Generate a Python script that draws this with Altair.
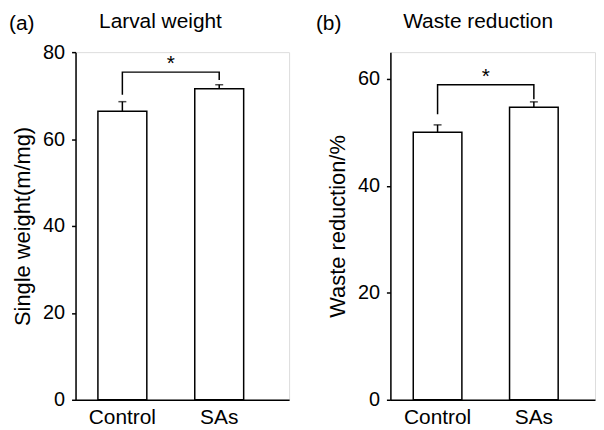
import altair as alt
import pandas as pd

# ---------------- data ----------------
groups = ["Control", "SAs"]
weight_mean = [66.4, 71.6]
weight_err = [2.2, 0.9]
waste_mean = [50.0, 54.7]
waste_err = [1.4, 1.0]
# significance brackets: left-leg bottom, bracket level, right-leg bottom
weight_bracket = [70.2, 75.4, 73.6]
waste_bracket = [53.4, 58.9, 56.2]
sig_mark = "*"
panel_tags = ["(a)", "(b)"]
panel_titles = ["Larval weight", "Waste reduction"]
y_titles = ["Single weight(m/mg)", "Waste reduction/%"]
y_max = [80, 65]
y_tick_values = [[0, 20, 40, 60, 80], [0, 20, 40, 60]]

FONT = "Liberation Sans"
INK = "black"
LW = 1.5


def make_panel(means, errs, bracket, tag, title, ytitle, ymax, yticks,
               width, pad_outer, align, tag_x, title_x):
    height = 350
    pad_inner = 0.495
    step = width / (len(groups) - pad_inner + 2 * pad_outer)

    bars = pd.DataFrame({"group": groups, "mean": means,
                         "upper": [m + e for m, e in zip(means, errs)]})
    br = pd.DataFrame({"group": [groups[0], groups[0], groups[1], groups[1]],
                       "y": [bracket[0], bracket[1], bracket[1], bracket[2]],
                       "k": [0, 1, 2, 3]})
    star = pd.DataFrame({"group": [groups[0]], "y": [bracket[1]], "t": [sig_mark]})
    labels = pd.DataFrame({"t": [tag], "title": [title]})

    x = alt.X("group:N", sort=groups, title=None,
              scale=alt.Scale(paddingInner=pad_inner, paddingOuter=pad_outer, align=align),
              axis=alt.Axis(labelAngle=0, ticks=False, labelPadding=7, labelFontSize=21,
                            domainWidth=LW, domainColor=INK, labelColor=INK, labelFont=FONT))

    def ych(field):
        return alt.Y(field, title=ytitle,
                     scale=alt.Scale(domain=[0, ymax], nice=False, zero=True),
                     axis=alt.Axis(values=yticks, grid=False, tickSize=4, tickWidth=LW,
                                   tickColor=INK, domainWidth=LW, domainColor=INK,
                                   labelFontSize=20, labelPadding=7, labelColor=INK,
                                   labelFont=FONT, titleFont=FONT, titleFontSize=22,
                                   titlePadding=8, titleFontWeight="normal",
                                   titleColor=INK))

    bar = alt.Chart(bars).mark_bar(fill="white", stroke=INK, strokeWidth=LW).encode(
        x=x, y=ych("mean:Q"))
    stem = alt.Chart(bars).mark_rule(color=INK, strokeWidth=LW).encode(
        x=x, y=ych("mean:Q"), y2="upper:Q")
    cap = alt.Chart(bars).mark_tick(color=INK, thickness=LW, size=8).encode(
        x=x, y=ych("upper:Q"))
    bracket_line = alt.Chart(br).mark_line(color=INK, strokeWidth=LW).encode(
        x=x, y=ych("y:Q"), order="k:Q")
    star_txt = alt.Chart(star).mark_text(font=FONT, fontSize=21, baseline="alphabetic",
                                         dx=step / 2, dy=-2, color=INK).encode(
        x=x, y=ych("y:Q"), text="t:N")
    tag_txt = alt.Chart(labels).mark_text(font=FONT, fontSize=21, align="left",
                                          baseline="alphabetic", color=INK).encode(
        x=alt.value(tag_x), y=alt.value(-22), text="t:N")
    title_txt = alt.Chart(labels).mark_text(font=FONT, fontSize=21, align="center",
                                            baseline="alphabetic", color=INK).encode(
        x=alt.value(title_x), y=alt.value(-24), text="title:N")

    return alt.layer(bar, stem, cap, bracket_line, star_txt, tag_txt, title_txt).properties(
        width=width, height=height)


pa = make_panel(weight_mean, weight_err, weight_bracket, panel_tags[0], panel_titles[0],
                y_titles[0], y_max[0], y_tick_values[0],
                width=215, pad_outer=0.35, align=0.33, tag_x=-67, title_x=85.5)
pb = make_panel(waste_mean, waste_err, waste_bracket, panel_tags[1], panel_titles[1],
                y_titles[1], y_max[1], y_tick_values[1],
                width=206, pad_outer=0.31, align=0.383, tag_x=-75, title_x=88.3)

chart = alt.hconcat(pa, pb, spacing=25).properties(
    padding={"left": 0, "top": 1, "right": 0, "bottom": 0}
).configure_view(stroke=None).configure(font=FONT, background="white")

chart.save("out.html", embed_options={"renderer": "svg", "actions": False})
